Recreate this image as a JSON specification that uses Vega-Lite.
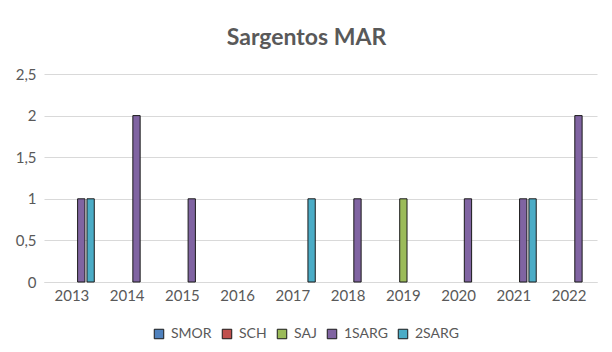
{
  "$schema": "https://vega.github.io/schema/vega-lite/v6.json",
  "autosize": {"type": "none"},
  "width": 553,
  "height": 208,
  "padding": {"left": 44, "top": 74, "right": 15, "bottom": 70},
  "background": "white",
  "title": {
    "text": "Sargentos MAR",
    "font": "Lato",
    "fontSize": 23,
    "fontWeight": "bold",
    "color": "#595959",
    "anchor": "middle",
    "dx": -14,
    "offset": 17
  },
  "data": {
    "values": [
      {"year": "2013", "series": "1SARG", "value": 1},
      {"year": "2013", "series": "2SARG", "value": 1},
      {"year": "2014", "series": "1SARG", "value": 2},
      {"year": "2015", "series": "1SARG", "value": 1},
      {"year": "2017", "series": "2SARG", "value": 1},
      {"year": "2018", "series": "1SARG", "value": 1},
      {"year": "2019", "series": "SAJ", "value": 1},
      {"year": "2020", "series": "1SARG", "value": 1},
      {"year": "2021", "series": "1SARG", "value": 1},
      {"year": "2021", "series": "2SARG", "value": 1},
      {"year": "2022", "series": "1SARG", "value": 2}
    ]
  },
  "mark": {"type": "bar", "stroke": "#1a1a1a", "strokeWidth": 1},
  "encoding": {
    "x": {
      "field": "year",
      "type": "nominal",
      "scale": {
        "domain": ["2013", "2014", "2015", "2016", "2017", "2018", "2019", "2020", "2021", "2022"],
        "paddingInner": 0.19,
        "paddingOuter": 0.1
      },
      "axis": {
        "title": null,
        "labelAngle": 0,
        "ticks": false,
        "domain": true,
        "domainColor": "#d9d9d9",
        "labelPadding": 6,
        "labelFont": "Lato",
        "labelFontSize": 15,
        "labelColor": "#595959"
      }
    },
    "xOffset": {
      "field": "series",
      "type": "nominal",
      "scale": {"domain": ["SMOR", "SCH", "SAJ", "1SARG", "2SARG"], "paddingInner": 0.22}
    },
    "y": {
      "field": "value",
      "type": "quantitative",
      "scale": {"domain": [0, 2.5]},
      "axis": {
        "title": null,
        "values": [0, 0.5, 1, 1.5, 2, 2.5],
        "format": "~g",
        "ticks": false,
        "domain": false,
        "gridColor": "#d9d9d9",
        "labelPadding": 8,
        "labelFont": "Lato",
        "labelFontSize": 15,
        "labelColor": "#595959"
      }
    },
    "color": {
      "field": "series",
      "type": "nominal",
      "scale": {
        "domain": ["SMOR", "SCH", "SAJ", "1SARG", "2SARG"],
        "range": ["#4F81BD", "#C0504D", "#9BBB59", "#8064A2", "#4BACC6"]
      },
      "legend": {
        "title": null,
        "orient": "none",
        "legendX": 108,
        "legendY": 253,
        "direction": "horizontal",
        "symbolType": "square",
        "symbolSize": 90,
        "symbolStrokeColor": "#1a1a1a",
        "symbolStrokeWidth": 1,
        "labelFont": "Lato",
        "labelFontSize": 14,
        "labelColor": "#595959",
        "labelOffset": 5,
        "columnPadding": 8
      }
    }
  },
  "config": {
    "view": {"stroke": null},
    "locale": {
      "number": {"decimal": ",", "thousands": ".", "grouping": [3], "currency": ["", " €"]}
    }
  }
}
